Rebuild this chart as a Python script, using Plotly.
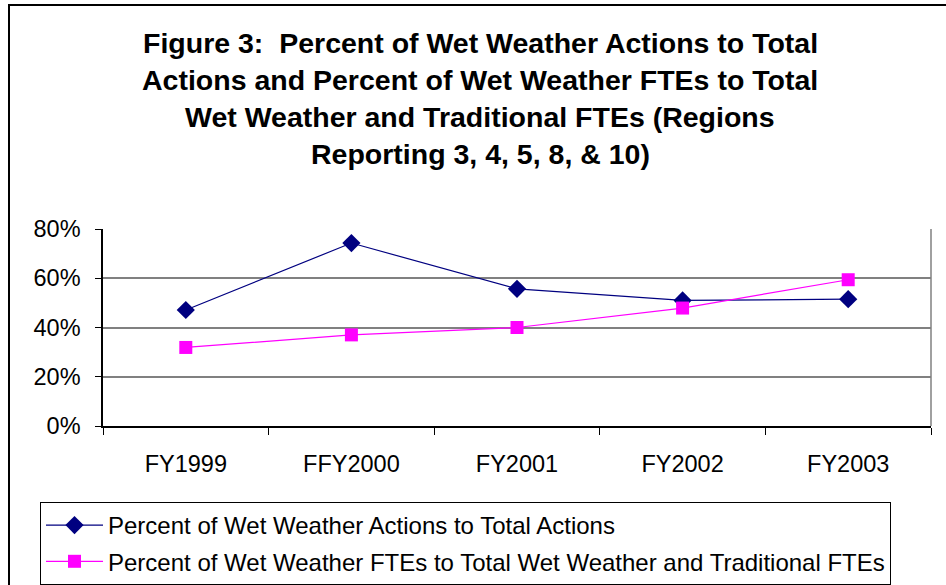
import plotly.graph_objects as go

categories = ["FY1999", "FFY2000", "FY2001", "FY2002", "FY2003"]
actions_pct = [47.1, 74.3, 55.7, 51.0, 51.5]
ftes_pct = [31.9, 37.0, 40.0, 47.9, 59.4]
series_names = [
    "Percent of Wet Weather Actions to Total Actions",
    "Percent of Wet Weather FTEs to Total Wet Weather and Traditional FTEs",
]
y_ticks = [0, 20, 40, 60, 80]
y_tick_labels = ["0%", "20%", "40%", "60%", "80%"]
title_lines = [
    "Figure 3:  Percent of Wet Weather Actions to Total",
    "Actions and Percent of Wet Weather FTEs to Total",
    "Wet Weather and Traditional FTEs (Regions",
    "Reporting 3, 4, 5, 8, & 10)",
]

FONT = "Liberation Sans, Arial, sans-serif"
W, H = 946, 585
L, R, T, B = 103, 15, 229, 159
PW, PH = W - L - R, H - T - B

def px_x(x):
    return (x - L) / PW

def px_y(y):
    return (H - B - y) / PH

fig = go.Figure()
fig.add_trace(go.Scatter(
    x=categories, y=actions_pct, name=series_names[0], mode="lines+markers",
    line=dict(color="#000080", width=1.2),
    marker=dict(symbol="diamond", size=14, color="#000080"),
    legendgroup="a",
))
fig.add_trace(go.Scatter(
    x=categories, y=ftes_pct, name=series_names[1], mode="lines+markers",
    line=dict(color="#FF00FF", width=1.2),
    marker=dict(symbol="square", size=13, color="#FF00FF"),
    legendgroup="b",
))

annotations = []
for i, line in enumerate(title_lines):
    yc = [42.5, 79.5, 116.7, 154][i]
    annotations.append(dict(
        text="<b>" + line + "</b>", x=px_x(480), y=px_y(yc), xref="paper", yref="paper",
        xanchor="center", yanchor="middle", showarrow=False,
        font=dict(family=FONT, size=28.5, color="black"),
    ))

fig.update_layout(
    width=W, height=H,
    margin=dict(l=L, r=R, t=T, b=B, autoexpand=False),
    paper_bgcolor="white", plot_bgcolor="white",
    font=dict(family=FONT, color="black"),
    annotations=annotations,
    showlegend=True,
    legend=dict(
        x=px_x(40), y=px_y(502), xanchor="left", yanchor="top",
        bordercolor="black", borderwidth=1, bgcolor="white",
        font=dict(family=FONT, size=24, color="black"),
        tracegroupgap=2, itemwidth=57,
    ),
    shapes=[
        dict(type="rect", xref="paper", yref="paper",
             x0=px_x(9), x1=px_x(960), y0=px_y(600), y1=px_y(5),
             line=dict(color="black", width=2), layer="below"),
        dict(type="line", xref="paper", yref="paper",
             x0=1, x1=1, y0=0, y1=1, line=dict(color="#808080", width=1.5)),
    ],
)
fig.update_xaxes(
    type="category", range=[-0.5, 4.5], automargin=False,
    showline=True, linecolor="black", linewidth=1.5,
    ticks="outside", tickson="boundaries", ticklen=7, tickcolor="black", tickwidth=1,
    showgrid=False, tickfont=dict(family=FONT, size=23.5, color="black"),
    ticklabelstandoff=16,
)
fig.update_yaxes(
    range=[0, 80], tickvals=y_ticks, ticktext=y_tick_labels, automargin=False,
    showline=True, linecolor="black", linewidth=1.5,
    ticks="outside", ticklen=6, tickcolor="black", tickwidth=1,
    showgrid=True, gridcolor="#808080", gridwidth=1.5,
    zeroline=False, tickfont=dict(family=FONT, size=23.5, color="black"),
    ticklabelstandoff=10,
)

fig.write_html("out.html", config={"displayModeBar": False},
               post_script="document.body.style.margin='0';")
